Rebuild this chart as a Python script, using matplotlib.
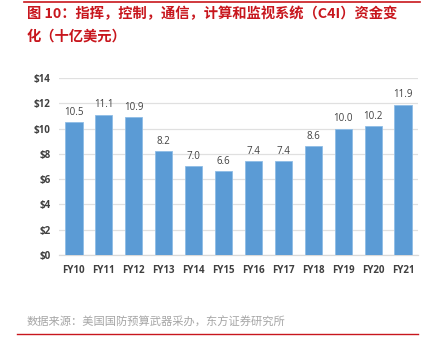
import matplotlib
matplotlib.use('Agg')
import matplotlib.pyplot as plt
from matplotlib.lines import Line2D

# C4I funding by fiscal year (billion USD)
years = ['FY10', 'FY11', 'FY12', 'FY13', 'FY14', 'FY15',
         'FY16', 'FY17', 'FY18', 'FY19', 'FY20', 'FY21']
funding = [10.5, 11.1, 10.9, 8.2, 7.0, 6.6, 7.4, 7.4, 8.6, 10.0, 10.2, 11.9]
y_ticks = [0, 2, 4, 6, 8, 10, 12, 14]

title_text = '图 10：指挥，控制，通信，计算和监视系统（C4I）资金变\n化（十亿美元）'
source_text = '数据来源：美国国防预算武器采办，东方证券研究所'

cjk = ['Noto Sans CJK SC', 'DejaVu Sans']
red = '#c8161d'

fig = plt.figure(figsize=(4.36, 3.56), dpi=100)
ax = fig.add_axes([0.135, 0.284, 0.824, 0.497])

x = range(len(years))
ax.bar(x, funding, width=0.58, color='#5b9bd5', edgecolor='#8fbde6', linewidth=0.6, zorder=3)
for xi, v in zip(x, funding):
    ax.text(xi, v + 0.35, f'{v:.1f}', ha='center', va='bottom', fontsize=7,
            color='#404040', family='Open Sans')

ax.set_xlim(-0.5, len(years) - 0.5)
ax.set_ylim(0, 14)
ax.set_yticks(y_ticks)
ax.set_yticklabels([f'${t}' for t in y_ticks], fontsize=7, fontweight='bold',
                   color='#404040', family='Open Sans')
ax.set_xticks(list(x))
ax.set_xticklabels(years, fontsize=7, fontweight='bold', color='#404040', family='Open Sans')
ax.tick_params(length=0, pad=6)
ax.tick_params(axis='x', pad=7)
ax.grid(axis='y', color='#e0e0e0', linewidth=0.9, zorder=0)
for s in ['top', 'right', 'left']:
    ax.spines[s].set_visible(False)
ax.spines['bottom'].set_color('#d9d9d9')
ax.spines['bottom'].set_linewidth(0.9)

# header / footer decoration
fig.add_artist(Line2D([24 / 436, 420 / 436], [1 - 2 / 356, 1 - 2 / 356], color=red, linewidth=1.2))
fig.add_artist(Line2D([17 / 436, 418 / 436], [1 - 334 / 356, 1 - 334 / 356], color=red, linewidth=1.0))

fig.text(27 / 436, 1 - 6.5 / 356, title_text, ha='left', va='top', fontsize=10.3,
         fontweight='bold', color=red, family=cjk, linespacing=1.8)
fig.text(27 / 436, 1 - 322 / 356, source_text, ha='left', va='center', fontsize=8.1,
         color='#a6a6a6', family=cjk)

fig.savefig('out.png', dpi=100)
